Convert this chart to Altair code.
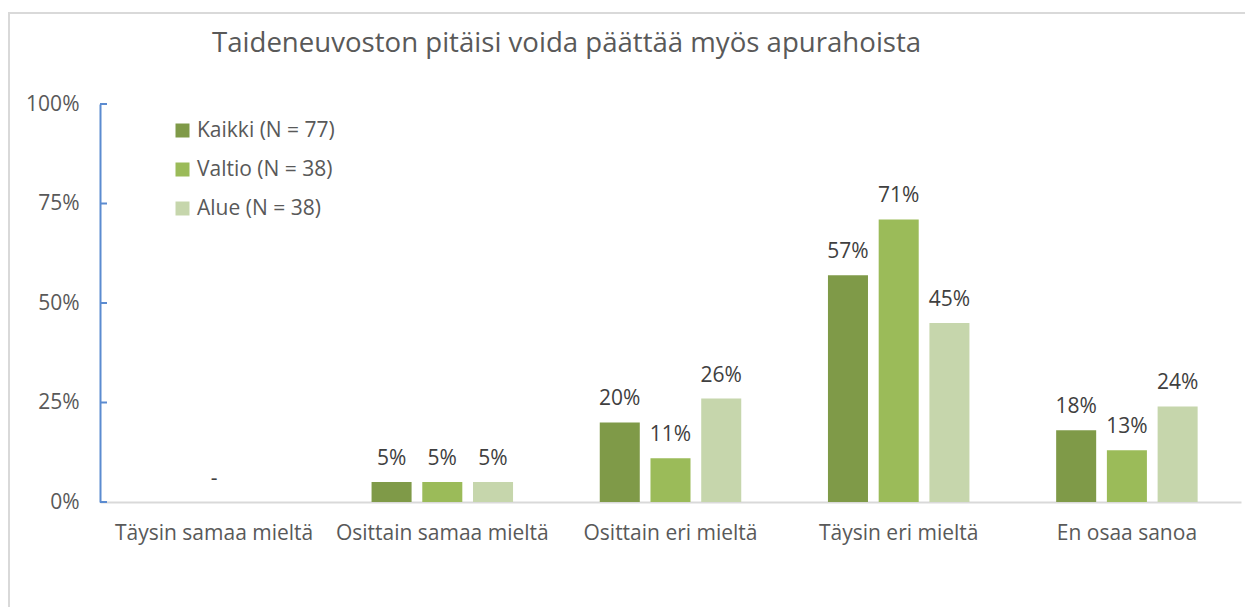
import altair as alt
import pandas as pd

title_text = "Taideneuvoston pitäisi voida päättää myös apurahoista"
categories = ["Täysin samaa mieltä", "Osittain samaa mieltä", "Osittain eri mieltä",
              "Täysin eri mieltä", "En osaa sanoa"]
series = ["Kaikki (N = 77)", "Valtio (N = 38)", "Alue (N = 38)"]
kaikki = [0.00, 0.05, 0.20, 0.57, 0.18]
valtio = [0.00, 0.05, 0.11, 0.71, 0.13]
alue = [0.00, 0.05, 0.26, 0.45, 0.24]
kaikki_lbl = ["", "5%", "20%", "57%", "18%"]
valtio_lbl = ["-", "5%", "11%", "71%", "13%"]
alue_lbl = ["", "5%", "26%", "45%", "24%"]
colors = ["#7F9A48", "#9BBB59", "#C6D6AC"]
y_ticks = [0, 0.25, 0.5, 0.75, 1.0]

rows = []
for s, vals, lbls in zip(series, [kaikki, valtio, alue], [kaikki_lbl, valtio_lbl, alue_lbl]):
    for c, v, l in zip(categories, vals, lbls):
        rows.append({"cat": c, "series": s, "value": v, "label": l})
df = pd.DataFrame(rows)
ticks_df = pd.DataFrame({"t": y_ticks})

FONT = "Open Sans"
TXT = "#595959"
W, H = 1141, 398
FS = 21

x = alt.X("cat:N", sort=categories, title=None,
          scale=alt.Scale(paddingInner=0.38, paddingOuter=0.19),
          axis=alt.Axis(labelAngle=0, labelFontSize=FS, labelColor=TXT, labelFont=FONT,
                        labelPadding=20, labelLimit=400, ticks=False,
                        domainColor="#D9D9D9", domainWidth=2))
xo = alt.XOffset("series:N", sort=series,
                 scale=alt.Scale(paddingInner=0.211, paddingOuter=0))
y = alt.Y("value:Q", title=None,
          scale=alt.Scale(domain=[0, 1], nice=False),
          axis=alt.Axis(values=y_ticks, format=".0%", labelFontSize=FS, labelColor=TXT,
                        labelFont=FONT, labelPadding=21, ticks=False, grid=False,
                        domainColor="#5B8BD0", domainWidth=2))

one = pd.DataFrame({"a": [0]})

border = alt.Chart(one).mark_rect(
    fill=None, stroke="#D9D9D9", strokeWidth=2
).encode(x=alt.value(-91), x2=alt.value(W + 60), y=alt.value(-91), y2=alt.value(H + 150))

title = alt.Chart(one).mark_text(
    align="left", baseline="alphabetic", fontSize=27.6, color="#595959", font=FONT
).encode(x=alt.value(112), y=alt.value(-52), text=alt.value(title_text))

bars = alt.Chart(df).mark_bar().encode(
    x=x, xOffset=xo, y=y,
    color=alt.Color("series:N", sort=series,
                    scale=alt.Scale(domain=series, range=colors),
                    legend=alt.Legend(title=None, orient="none", legendX=72, legendY=16,
                                      symbolType="square", symbolSize=196,
                                      symbolStrokeWidth=0, labelFontSize=FS,
                                      labelColor=TXT, labelFont=FONT, rowPadding=17,
                                      labelOffset=4)),
)

labels = alt.Chart(df).mark_text(
    baseline="middle", dy=-23, fontSize=FS, color="#404040", font=FONT
).encode(x=x, xOffset=xo, y=y, text="label:N")

yticks = alt.Chart(ticks_df).mark_rule(color="#5B8BD0", strokeWidth=2).encode(
    y=alt.Y("t:Q", scale=alt.Scale(domain=[0, 1], nice=False)),
    x=alt.value(0), x2=alt.value(7))

chart = alt.layer(border, title, bars, labels, yticks).properties(
    width=W, height=H,
    autosize=alt.AutoSizeParams(type="none"),
    padding={"left": 92, "top": 96, "right": 4, "bottom": 105},
).configure_view(stroke=None)

chart.save("out.html", embed_options={"renderer": "svg", "actions": False})
